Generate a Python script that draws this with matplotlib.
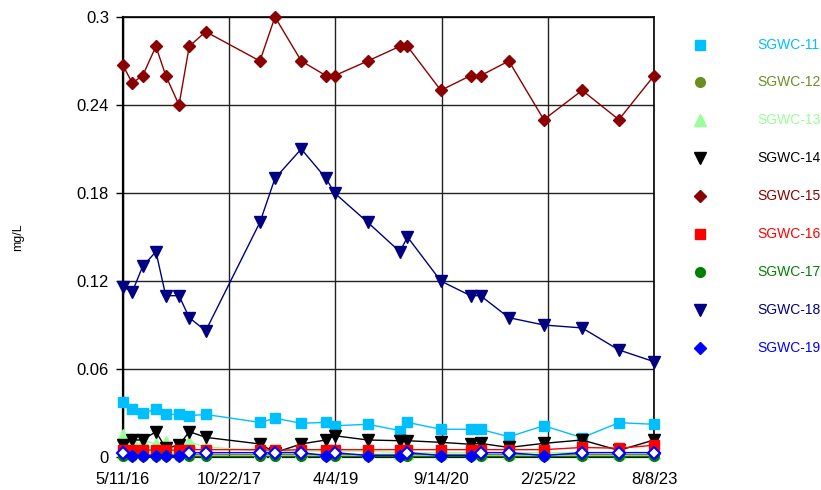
import matplotlib
matplotlib.use("Agg")
import matplotlib.pyplot as plt
from matplotlib.lines import Line2D
import numpy as np
import datetime as dt

plt.rcParams['font.family'] = ['Liberation Sans', 'DejaVu Sans']

dates = ["2016-05-11", "2016-06-26", "2016-08-17", "2016-10-22", "2016-12-10", "2017-02-14",
         "2017-04-06", "2017-06-27", "2018-03-24", "2018-06-07", "2018-10-16", "2019-02-16",
         "2019-03-31", "2019-09-12", "2020-02-19", "2020-03-28", "2020-09-10", "2021-02-05",
         "2021-03-27", "2021-08-15", "2022-02-05", "2022-08-15", "2023-02-14", "2023-08-08"]

sgwc11 = [0.0377, 0.0327, 0.0298, 0.0327, 0.0291, 0.029, 0.0282, 0.029, 0.0236, 0.0264, 0.023, 0.0236,
          0.0213, 0.0223, 0.018, 0.0236, 0.0189, 0.0189, 0.0189, 0.0138, 0.0213, 0.0132, 0.0234, 0.0223]
sgwc12 = [0.002, 0.002, 0.002, 0.002, 0.002, 0.002, 0.002, 0.002, 0.002, 0.002, 0.002, 0.002,
          0.002, 0.002, 0.002, 0.002, 0.002, 0.002, 0.002, 0.002, 0.002, 0.002, 0.002, 0.002]
sgwc13 = [0.015, 0.012, 0.011, 0.009, 0.010, 0.006, 0.010, 0.007, 0.004, 0.004, 0.004, 0.004,
          0.004, 0.004, 0.003, 0.003, 0.003, 0.003, 0.003, 0.003, 0.003, 0.003, 0.003, 0.003]
sgwc14 = [0.0082, 0.0116, 0.0116, 0.0173, 0.006, 0.008, 0.0173, 0.0134, 0.0089, 0.003, 0.0089, 0.0116,
          0.0145, 0.0116, 0.0111, 0.0111, 0.010, 0.0087, 0.0093, 0.0065, 0.0093, 0.0116, 0.0045, 0.0116]
sgwc15 = [0.267, 0.255, 0.26, 0.28, 0.26, 0.24, 0.28, 0.29, 0.27, 0.30, 0.27, 0.26,
          0.26, 0.27, 0.28, 0.28, 0.25, 0.26, 0.26, 0.27, 0.23, 0.25, 0.23, 0.26]
sgwc16 = [0.0045, 0.0045, 0.0045, 0.005, 0.005, 0.0045, 0.005, 0.005, 0.005, 0.0045, 0.005, 0.005,
          0.005, 0.005, 0.005, 0.005, 0.005, 0.005, 0.005, 0.005, 0.005, 0.0065, 0.006, 0.008]
sgwc17 = [0.0004, 0.0004, 0.0004, 0.0004, 0.0004, 0.0004, 0.0004, 0.0004, 0.0004, 0.0004, 0.0004, 0.0004,
          0.0004, 0.0004, 0.0004, 0.0004, 0.0004, 0.0004, 0.0004, 0.0004, 0.0004, 0.0004, 0.0004, 0.0004]
sgwc18 = [0.116, 0.1125, 0.13, 0.14, 0.11, 0.11, 0.095, 0.086, 0.16, 0.19, 0.21, 0.19,
          0.18, 0.16, 0.14, 0.15, 0.12, 0.11, 0.11, 0.095, 0.09, 0.088, 0.073, 0.065]
sgwc19 = [0.003, 0.001, 0.001, 0.001, 0.001, 0.001, 0.003, 0.003, 0.003, 0.003, 0.003, 0.001,
          0.003, 0.001, 0.001, 0.003, 0.001, 0.001, 0.003, 0.003, 0.001, 0.003, 0.003, 0.003]
sgwc19_nd = [1, 0, 0, 0, 0, 0, 1, 1, 1, 1, 1, 0, 1, 0, 0, 1, 0, 0, 1, 1, 0, 1, 1, 1]

names = ["SGWC-11", "SGWC-12", "SGWC-13", "SGWC-14", "SGWC-15", "SGWC-16", "SGWC-17", "SGWC-18", "SGWC-19"]
tick_dates = ["2016-05-11", "2017-10-22", "2019-04-04", "2020-09-14", "2022-02-25", "2023-08-08"]
tick_labels = ["5/11/16", "10/22/17", "4/4/19", "9/14/20", "2/25/22", "8/8/23"]
y_ticks = [0, 0.06, 0.12, 0.18, 0.24, 0.3]
y_labels = ["0", "0.06", "0.12", "0.18", "0.24", "0.3"]

colors = ["#00BFFF", "#6B8E23", "#99FF99", "#000000", "#8B0000", "#FF0000", "#008000", "#000080", "#0000FF"]
markers = ["s", "o", "^", "v", "D", "s", "o", "v", "D"]
msizes = [7.5, 7, 8, 8, 6, 7.5, 7, 8, 6]

x = [dt.datetime.strptime(d, "%Y-%m-%d") for d in dates]
series = [sgwc11, sgwc12, sgwc13, sgwc14, sgwc15, sgwc16, sgwc17, sgwc18, sgwc19]

fig = plt.figure(figsize=(8.21, 4.90), dpi=100)
ax = fig.add_axes([123 / 821, 1 - 457 / 490, (654 - 123) / 821, (457 - 17) / 490])

for vals, c, m, ms in zip(series, colors, markers, msizes):
    ax.plot(x, vals, color=c, lw=1.0, marker=m, markersize=ms, markeredgecolor=c,
            markerfacecolor=c, clip_on=False, zorder=3)

# non-detect hollow markers for SGWC-19
nd = np.array(sgwc19_nd, dtype=bool)
xa = np.array(x)
ax.plot(xa[nd], np.array(sgwc19)[nd], ls="none", marker="D", markersize=6,
        markeredgecolor="#0000FF", markerfacecolor="white", markeredgewidth=1.5,
        clip_on=False, zorder=4)

ax.set_xlim(dt.datetime(2016, 5, 11), dt.datetime(2023, 8, 8))
ax.set_ylim(0, 0.3)
ax.set_xticks([dt.datetime.strptime(d, "%Y-%m-%d") for d in tick_dates])
ax.set_xticklabels(tick_labels)
ax.set_yticks(y_ticks)
ax.set_yticklabels(y_labels)
ax.tick_params(axis="both", labelsize=12, length=5, width=1, color="black", direction="out")
ax.tick_params(axis="y", pad=5)
ax.tick_params(axis="x", length=0, pad=11)
ax.grid(True, color="#222222", lw=1.0)
ax.set_axisbelow(True)
for s in ax.spines.values():
    s.set_color("black")
    s.set_linewidth(1.2)
ax.spines["left"].set_linewidth(1.6)
ax.spines["bottom"].set_linewidth(1.6)

fig.text(18 / 821, 1 - 237 / 490, "mg/L", rotation=90, fontsize=9, ha="center", va="center")

# legend
leg_y = [45, 82, 120, 158, 196, 234, 272, 310, 348]
for name, c, m, ms, ly in zip(names, colors, markers, msizes, leg_y):
    yf = 1 - ly / 490
    fig.add_artist(Line2D([700 / 821], [yf], transform=fig.transFigure, marker=m,
                          markersize=ms, color=c, markeredgecolor=c, markerfacecolor=c, ls="none"))
    fig.text(757 / 821, yf, name, color=c, fontsize=10, ha="left", va="center")

fig.savefig("out.png", dpi=100)
